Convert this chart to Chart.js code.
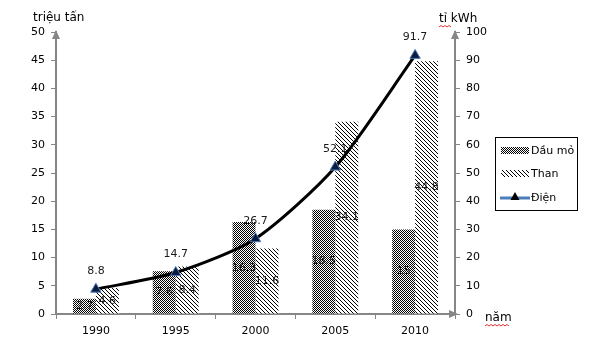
<!DOCTYPE html>
<html>
<head>
<meta charset="utf-8">
<script src="https://cdn.jsdelivr.net/npm/chart.js@4.4.1/dist/chart.umd.min.js"></script>
<style>
  html, body { margin: 0; padding: 0; background: #fff; }
  #wrap { width: 599px; height: 348px; position: relative; }
</style>
</head>
<body>
<div id="wrap"><canvas id="chart" width="599" height="348"></canvas></div>
<script>
var years = ['1990', '1995', '2000', '2005', '2010'];
var dauMo = [2.7, 7.6, 16.3, 18.5, 15];
var than = [4.6, 8.4, 11.6, 34.1, 44.8];
var dien = [8.8, 14.7, 26.7, 52.1, 91.7];

var FONT = 'DejaVu Sans';
var AXIS = '#868686';

// fill patterns like the old excel ones
function checkerPattern(ctx) {
    var c = document.createElement('canvas');
    c.width = 2; c.height = 2;
    var g = c.getContext('2d');
    g.fillStyle = '#fff'; g.fillRect(0, 0, 2, 2);
    g.fillStyle = '#000'; g.fillRect(0, 0, 1, 1); g.fillRect(1, 1, 1, 1);
    return ctx.createPattern(c, 'repeat');
}
function hatchPattern(ctx) {
    var c = document.createElement('canvas');
    c.width = 4; c.height = 4;
    var g = c.getContext('2d');
    g.fillStyle = '#fff'; g.fillRect(0, 0, 4, 4);
    g.fillStyle = '#000';
    for (var i = 0; i < 4; i++) g.fillRect(i, i, 1, 1);
    return ctx.createPattern(c, 'repeat');
}

function squiggle(ctx, x1, x2, y) {
    ctx.save();
    ctx.strokeStyle = '#e03030';
    ctx.lineWidth = 1;
    ctx.beginPath();
    var up = true;
    ctx.moveTo(x1, y);
    for (var x = x1 + 2; x <= x2; x += 2) {
        ctx.lineTo(x, up ? y - 1.5 : y);
        up = !up;
    }
    ctx.stroke();
    ctx.restore();
}

function triangle(ctx, x, y, r, fill) {
    ctx.beginPath();
    ctx.moveTo(x, y - r);
    ctx.lineTo(x + r * 0.9, y + r * 0.6);
    ctx.lineTo(x - r * 0.9, y + r * 0.6);
    ctx.closePath();
    ctx.fillStyle = fill;
    ctx.fill();
}

function text(c, s, x, y, align) {
    c.textAlign = align || 'left';
    c.fillText(s, x, y);
}

var ctx = document.getElementById('chart').getContext('2d');
var patA = checkerPattern(ctx);
var patB = hatchPattern(ctx);

var extras = {
    id: 'extras',
    afterDatasetsDraw: function(chart) {
        var c = chart.ctx;
        var area = chart.chartArea;
        c.save();
        c.font = '11px "' + FONT + '"';
        c.fillStyle = '#1a1a1a';
        c.textBaseline = 'middle';
        // labels inside the bars
        [0, 1].forEach(function(di) {
            chart.getDatasetMeta(di).data.forEach(function(bar, i) {
                var v = chart.data.datasets[di].data[i];
                text(c, String(v), bar.x, (bar.y + bar.base) / 2, 'center');
            });
        });
        // labels above the line points
        chart.getDatasetMeta(2).data.forEach(function(pt, i) {
            text(c, String(dien[i]), pt.x, pt.y - 18, 'center');
        });

        // axis arrows
        c.fillStyle = AXIS;
        [area.left, area.right].forEach(function(x) {
            c.beginPath();
            c.moveTo(x, area.top - 2);
            c.lineTo(x + 4, area.top + 7);
            c.lineTo(x - 4, area.top + 7);
            c.closePath();
            c.fill();
        });
        c.beginPath();
        c.moveTo(area.right + 3, area.bottom);
        c.lineTo(area.right - 6, area.bottom - 4);
        c.lineTo(area.right - 6, area.bottom + 4);
        c.closePath();
        c.fill();

        // axis titles
        c.fillStyle = '#000';
        c.font = '12px "' + FONT + '"';
        text(c, 'triệu tấn', 33, 18, 'left');
        text(c, 'tỉ kWh', 439, 19, 'left');
        text(c, 'năm', 485, 318, 'left');
        squiggle(c, 439, 451, 27);
        squiggle(c, 485, 510, 326);

        // legend
        c.strokeStyle = '#000';
        c.lineWidth = 1;
        c.strokeRect(495.5, 137.5, 82, 73);
        c.font = '11px "' + FONT + '"';
        c.fillStyle = patA;
        c.fillRect(501, 147, 28, 7);
        c.fillStyle = patB;
        c.fillRect(501, 170, 28, 7);
        c.strokeStyle = '#4a7ebb';
        c.lineWidth = 3;
        c.beginPath();
        c.moveTo(500, 198);
        c.lineTo(530, 198);
        c.stroke();
        triangle(c, 515, 197, 5, '#000');
        c.fillStyle = '#000';
        text(c, 'Dầu mỏ', 531, 151, 'left');
        text(c, 'Than', 531, 174, 'left');
        text(c, 'Điện', 531, 198, 'left');
        c.restore();
    }
};

var chart = new Chart(ctx, {
    type: 'bar',
    data: {
        labels: years,
        datasets: [
            {
                label: 'Dầu mỏ',
                data: dauMo,
                backgroundColor: patA,
                borderWidth: 0,
                yAxisID: 'y',
                order: 2,
                categoryPercentage: 0.575,
                barPercentage: 1
            },
            {
                label: 'Than',
                data: than,
                backgroundColor: patB,
                borderWidth: 0,
                yAxisID: 'y',
                order: 2,
                categoryPercentage: 0.575,
                barPercentage: 1
            },
            {
                type: 'line',
                label: 'Điện',
                data: dien,
                yAxisID: 'y1',
                order: 1,
                borderColor: '#000',
                borderWidth: 3,
                tension: 0.25,
                pointStyle: 'triangle',
                pointRadius: 6,
                pointBackgroundColor: '#0d1b3e',
                pointBorderColor: '#4a7ebb',
                pointBorderWidth: 1
            }
        ]
    },
    options: {
        responsive: false,
        animation: false,
        layout: { padding: { top: 32, left: 0, right: 0, bottom: 0 } },
        plugins: {
            legend: { display: false },
            tooltip: { enabled: false }
        },
        scales: {
            x: {
                grid: { offset: true, drawOnChartArea: false, tickLength: 5, color: AXIS, lineWidth: 1 },
                border: { color: AXIS, width: 2 },
                ticks: { color: '#000', font: { family: FONT, size: 11 }, padding: 6 },
                afterFit: function(s) { s.height = 34; }
            },
            y: {
                position: 'left',
                min: 0, max: 50,
                grid: { drawOnChartArea: false, tickLength: 5, color: AXIS },
                border: { color: AXIS, width: 2 },
                ticks: { stepSize: 5, color: '#000', font: { family: FONT, size: 11 }, padding: 6 },
                afterFit: function(s) { s.width = 56; }
            },
            y1: {
                position: 'right',
                min: 0, max: 100,
                grid: { drawOnChartArea: false, tickLength: 5, color: AXIS },
                border: { color: AXIS, width: 2 },
                ticks: { stepSize: 10, color: '#000', font: { family: FONT, size: 11 }, padding: 6 },
                afterFit: function(s) { s.width = 144; }
            }
        }
    },
    plugins: [extras]
});
</script>
</body>
</html>
